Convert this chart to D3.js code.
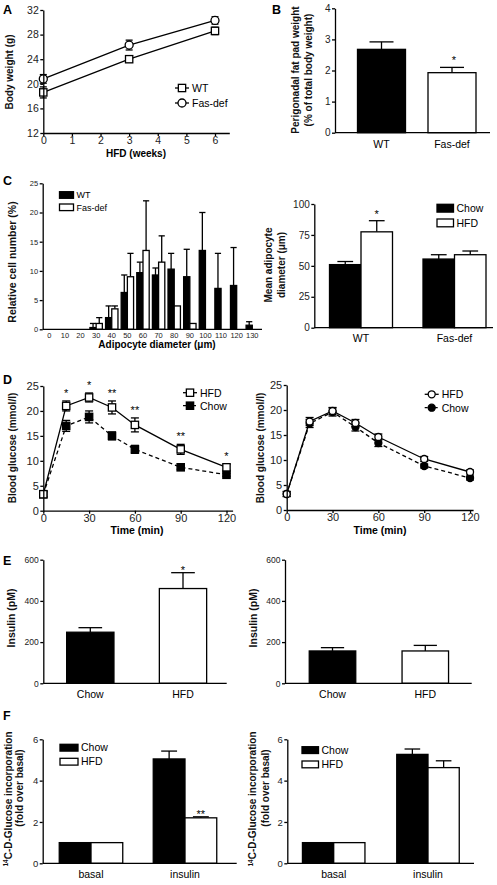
<!DOCTYPE html>
<html><head><meta charset="utf-8">
<script src="https://cdn.jsdelivr.net/npm/d3@7"></script>
<style>body{margin:0;background:#fff}</style>
</head><body><svg id="c" width="497" height="885"></svg>
<script>
// ---------------- DATA ----------------
const weeks=[0,3,6];
const bwWT=[18.6,24.0,28.6], bwWTerr=[0.9,0.5,0.6];
const bwFas=[20.8,26.3,30.3], bwFasErr=[0.7,0.8,0.6];
const weekTicks=[0,1,2,3,4,5,6], bwTicks=[12,16,20,24,28,32];

const fatCats=["WT","Fas-def"], fatVals=[2.68,1.93], fatErr=[0.24,0.17], fatSig=["","*"];
const fatTicks=[0,1,2,3,4];

const diamCats=[0,10,20,30,40,50,60,70,80,90,100,110,120,130];
const histSeries=["WT","Fas-def"];
const histWT=[0,0,0,0.3,2,6.3,9.7,9.3,10.3,9,13.5,7,7.5,0.7];
const histWTerr=[0,0,0,0.7,2,3,1.8,1.2,2.7,4.7,6.5,6,6.5,0.6];
const histFas=[0,0,0,1,3.5,9,13.5,11.5,4,1,0,0,0,0];
const histFasErr=[0,0,0,1,0.5,4,8.5,4.5,0,0,0,0,0,0];
const histTicks=[0,5,10,15,20,25];

const meanGroups=["WT","Fas-def"], dietSeries=["Chow","HFD"];
const meanChow=[51,55.5], meanChowErr=[2.5,3.5];
const meanHFD=[77.5,59], meanHFDerr=[9,3];
const meanSig=["*",""];
const meanTicks=[0,25,50,75,100];

const times=[0,15,30,45,60,90,120], timeTicks=[0,30,60,90,120], gluTicks=[0,5,10,15,20,25];
const gttHFD=[3.3,21,22.7,20.7,17.2,12.3,8.7], gttHFDerr=[0.5,1.0,0.9,1.3,1.4,1.0,0.6];
const gttChow=[3.3,17,18.8,15,12.3,8.7,7.2], gttChowErr=[0.5,1.1,1.2,0.8,0.8,0.4,0.3];
const gttSig=["","*","*","**","**","**","*"];
const gtt2HFD=[3.2,17.7,19.8,17.4,14.6,10.2,7.6], gtt2HFDerr=[0.5,0.8,0.7,0.7,0.6,0.5,0.4];
const gtt2Chow=[3.2,17.3,19.6,16.6,13.4,8.8,6.4], gtt2ChowErr=[0.5,0.8,0.8,0.8,0.7,0.4,0.4];

const insCats=["Chow","HFD"], insTicks=[0,200,400,600];
const insWT=[248,460], insWTerr=[22,77], insSig=["","*"];
const insFas=[157,157], insFasErr=[16,27];

const glcCats=["basal","insulin"], glcTicks=[0,2,4,6];
const glcChowWT=[1,5.05], glcChowWTerr=[0,0.38];
const glcHFDWT=[1,2.2], glcHFDWTerr=[0,0.05], glcSigWT=["","**"];
const glcChowFas=[1,5.27], glcChowFasErr=[0,0.26];
const glcHFDFas=[1,4.63], glcHFDFasErr=[0,0.33];

// ---------------- HELPERS ----------------
const svg=d3.select("#c");
const FONT='"Liberation Sans", Arial, Helvetica, sans-serif';
const SW=1.3;
const fmt=d3.format("d");
function txt(x,y,s,fs,opt={}){
  return svg.append("text").attr("x",x).attr("y",y).text(s)
    .attr("font-family",FONT).attr("font-size",fs)
    .attr("text-anchor",opt.anchor||"start")
    .attr("font-weight",opt.bold?"bold":"normal").attr("fill","#000");
}
function vtxt(x,y,s,fs){
  return svg.append("text").attr("transform",`translate(${x},${y}) rotate(-90)`)
    .attr("text-anchor","middle").attr("font-family",FONT).attr("font-weight","bold")
    .attr("font-size",fs).attr("fill","#111").text(s);
}
function styleAxis(g,fs){
  g.attr("font-family",FONT).attr("font-size",fs);
  g.select(".domain").attr("stroke","#000").attr("stroke-width",SW);
  g.selectAll(".tick line").attr("stroke","#000").attr("stroke-width",SW);
  g.selectAll(".tick text").attr("fill","#222");
}
function yAxis(y,x0,ticks,fs){
  const g=svg.append("g").attr("transform",`translate(${x0},0)`)
    .call(d3.axisLeft(y).tickValues(ticks).tickFormat(fmt).tickSize(3).tickSizeOuter(0).tickPadding(1.5));
  styleAxis(g,fs); return g;
}
function xAxis(x,y0,ticks,fs){
  const g=svg.append("g").attr("transform",`translate(0,${y0})`)
    .call(d3.axisBottom(x).tickValues(ticks).tickFormat(fmt).tickSize(3).tickSizeOuter(0).tickPadding(0.5));
  styleAxis(g,fs); return g;
}
function hline(x0,x1,y){
  svg.append("line").attr("x1",x0).attr("x2",x1).attr("y1",y).attr("y2",y)
    .attr("stroke","#000").attr("stroke-width",SW);
}
function seg(x1,y1,x2,y2){
  svg.append("line").attr("x1",x1).attr("x2",x2).attr("y1",y1).attr("y2",y2)
    .attr("stroke","#000").attr("stroke-width",SW);
}
function band(cats,c0,step,bw){
  const pi=1-bw/step;
  return d3.scaleBand().domain(cats).range([c0-step/2,c0-step/2+step*cats.length])
    .paddingInner(pi).paddingOuter(pi/2);
}
function bar(x0,w,y,v,e,fill,capFrac){
  if(e>0){
    const cx=x0+w/2, cw=w*capFrac/2;
    seg(cx,y(v),cx,y(v+e)); seg(cx-cw,y(v+e),cx+cw,y(v+e));
  }
  if(v>0){
    svg.append("rect").attr("x",x0).attr("y",y(v)).attr("width",w).attr("height",y(0)-y(v))
      .attr("fill",fill).attr("stroke","#000").attr("stroke-width",SW);
  }
}
function groupedBars(x,sub,y,cats,series,vals,errs,fills,capFrac){
  series.forEach((s,si)=>cats.forEach((c,ci)=>{
    bar(x(c)+sub(s),sub.bandwidth(),y,vals[si][ci],errs[si][ci],fills[si],capFrac);
  }));
}
function line(x,y,xs,vals,dash){
  svg.append("path").datum(xs.map((t,i)=>[x(t),y(vals[i])])).attr("d",d3.line())
    .attr("fill","none").attr("stroke","#000").attr("stroke-width",SW)
    .attr("stroke-dasharray",dash||null);
}
function errBars(x,y,xs,vals,errs,cap){
  xs.forEach((t,i)=>{
    const cx=x(t), lo=y(vals[i]-errs[i]), hi=y(vals[i]+errs[i]);
    seg(cx,lo,cx,hi); seg(cx-cap/2,lo,cx+cap/2,lo); seg(cx-cap/2,hi,cx+cap/2,hi);
  });
}
function marker(cx,cy,shape,fill,s){
  if(shape==="square"){
    svg.append("rect").attr("x",cx-s/2).attr("y",cy-s/2).attr("width",s).attr("height",s)
      .attr("fill",fill).attr("stroke","#000").attr("stroke-width",SW);
  } else {
    svg.append("circle").attr("cx",cx).attr("cy",cy).attr("r",s/2)
      .attr("fill",fill).attr("stroke","#000").attr("stroke-width",SW);
  }
}
function markers(x,y,xs,vals,shape,fill,s){
  xs.forEach((t,i)=>marker(x(t),y(vals[i]),shape,fill,s));
}
function lineLegend(x,y,label,shape,fill,dash,fs,s){
  svg.append("line").attr("x1",x-7).attr("x2",x+7).attr("y1",y).attr("y2",y)
    .attr("stroke","#000").attr("stroke-width",SW).attr("stroke-dasharray",dash||null);
  marker(x,y,shape,fill,s);
  txt(x+10,y+3.8,label,fs);
}
function boxLegend(x,y,w,h,label,fill,fs){
  svg.append("rect").attr("x",x).attr("y",y).attr("width",w).attr("height",h)
    .attr("fill",fill).attr("stroke","#000").attr("stroke-width",SW);
  txt(x+w+3,y+h,label,fs);
}
function letter(x,y,s){ txt(x,y,s,12.5,{bold:true}).attr("font-weight","900"); }

// ---------------- PANEL A ----------------
letter(3,13.5,"A");
const xA=d3.scaleLinear([0,6.5],[43.3,229.3]), yA=d3.scaleLinear([12,32],[133,10]);
line(xA,yA,weeks,bwWT); line(xA,yA,weeks,bwFas);
errBars(xA,yA,weeks,bwWT,bwWTerr,7); errBars(xA,yA,weeks,bwFas,bwFasErr,7);
markers(xA,yA,weeks,bwWT,"square","#fff",7.3);
markers(xA,yA,weeks,bwFas,"circle","#fff",8);
yAxis(yA,43.3,bwTicks,10.5); xAxis(xA,133,weekTicks,10.5);
txt(136,156.5,"HFD (weeks)",10,{anchor:"middle",bold:true});
vtxt(12.5,72,"Body weight (g)",10);
lineLegend(182,88,"WT","square","#fff",null,10.5,7.3);
lineLegend(182,103,"Fas-def","circle","#fff",null,10.5,8);

// ---------------- PANEL B ----------------
letter(272,13.5,"B");
const yB=d3.scaleLinear([0,4],[132.7,8.3]);
const xB=band(fatCats,381.5,70.5,48);
fatCats.forEach((c,i)=>{
  bar(xB(c),xB.bandwidth(),yB,fatVals[i],fatErr[i],i===0?"#000":"#fff",0.5);
  const cx=xB(c)+xB.bandwidth()/2;
  txt(cx,147.5,c,10.5,{anchor:"middle"});
  if(fatSig[i]) txt(cx+2,yB(fatVals[i]+fatErr[i])-3,fatSig[i],11,{anchor:"middle"});
});
yAxis(yB,335,fatTicks,10); hline(335,490,132.7);
vtxt(299,70,"Perigonadal fat pad weight",10);
vtxt(312,70,"(% of total body weight)",10);

// ---------------- PANEL C (left) ----------------
letter(3,185,"C");
const yC=d3.scaleLinear([0,25],[329.3,183.3]);
const xC=band(diamCats,49.3,15.615,12.4);
const subC=d3.scaleBand().domain(histSeries).range([0,xC.bandwidth()]);
groupedBars(xC,subC,yC,diamCats,histSeries,[histWT,histFas],[histWTerr,histFasErr],["#000","#fff"],1);
yAxis(yC,42.7,histTicks,7.5); hline(42.7,262,329.3);
diamCats.forEach(c=>txt(xC(c)+xC.bandwidth()/2,338,String(c),7.5,{anchor:"middle"}).attr("fill","#222"));
txt(157,347.7,"Adipocyte diameter (\u03bcm)",10,{anchor:"middle",bold:true});
vtxt(16,262,"Relative cell number (%)",10.5);
boxLegend(59.5,191.7,14,6.6,"WT","#000",9);
boxLegend(59.5,204,14,6.6,"Fas-def","#fff",9);

// ---------------- PANEL C (right) ----------------
const yCR=d3.scaleLinear([0,100],[327.7,204]);
const xCR=band(meanGroups,361,93.5,63);
const subCR=d3.scaleBand().domain(dietSeries).range([0,xCR.bandwidth()]);
groupedBars(xCR,subCR,yCR,meanGroups,dietSeries,[meanChow,meanHFD],[meanChowErr,meanHFDerr],["#000","#fff"],0.5);
meanGroups.forEach((g,i)=>{
  txt(xCR(g)+xCR.bandwidth()/2,342,g,10.5,{anchor:"middle"});
  if(meanSig[i]) txt(xCR(g)+subCR("HFD")+subCR.bandwidth()/2,yCR(meanHFD[i]+meanHFDerr[i])-3,meanSig[i],11,{anchor:"middle"});
});
yAxis(yCR,314.3,meanTicks,10); hline(314.3,493,327.7);
vtxt(272,265,"Mean adipocyte",10);
vtxt(285,265,"diameter (\u03bcm)",10);
boxLegend(437,204.3,16.5,7.8,"Chow","#000",10.5);
boxLegend(437,219,16.5,7.8,"HFD","#fff",10.5);

// ---------------- PANEL D (left) ----------------
letter(3,383.5,"D");
const xD=d3.scaleLinear([0,124],[43.3,232.6]), yD=d3.scaleLinear([0,25],[510.7,386]);
line(xD,yD,times,gttHFD); line(xD,yD,times,gttChow,"4,3");
errBars(xD,yD,times,gttHFD,gttHFDerr,8); errBars(xD,yD,times,gttChow,gttChowErr,8);
markers(xD,yD,times,gttChow,"square","#000",7.3);
markers(xD,yD,times,gttHFD,"square","#fff",7.3);
times.forEach((t,i)=>{ if(gttSig[i]) txt(xD(t),yD(gttHFD[i]+gttHFDerr[i])-4,gttSig[i],11,{anchor:"middle"}); });
yAxis(yD,43.3,gluTicks,11); xAxis(xD,510.7,timeTicks,11);
txt(137,534,"Time (min)",10.5,{anchor:"middle",bold:true});
vtxt(15.5,448,"Blood glucose (mmol/l)",10);
lineLegend(190,392.7,"HFD","square","#fff",null,10.5,7.3);
lineLegend(190,405.7,"Chow","square","#000","3,2",10.5,7.3);

// ---------------- PANEL D (right) ----------------
const xD2=d3.scaleLinear([0,122],[286.7,473.1]), yD2=d3.scaleLinear([0,25],[510,385]);
line(xD2,yD2,times,gtt2HFD); line(xD2,yD2,times,gtt2Chow,"4,3");
errBars(xD2,yD2,times,gtt2HFD,gtt2HFDerr,8); errBars(xD2,yD2,times,gtt2Chow,gtt2ChowErr,8);
markers(xD2,yD2,times,gtt2Chow,"circle","#000",7);
markers(xD2,yD2,times,gtt2HFD,"circle","#fff",7);
yAxis(yD2,286.7,gluTicks,11); xAxis(xD2,510,timeTicks,11);
txt(380,534,"Time (min)",10.5,{anchor:"middle",bold:true});
vtxt(264,448,"Blood glucose (mmol/l)",10);
lineLegend(431.7,394.3,"HFD","circle","#fff",null,10.5,7);
lineLegend(431.7,407.7,"Chow","circle","#000","3,2",10.5,7);

// ---------------- PANEL E ----------------
letter(3,565,"E");
const yE=d3.scaleLinear([0,600],[683.3,559.7]);
const xE=band(insCats,90.3,92.7,47.3);
insCats.forEach((c,i)=>{
  bar(xE(c),xE.bandwidth(),yE,insWT[i],insWTerr[i],i===0?"#000":"#fff",0.5);
  const cx=xE(c)+xE.bandwidth()/2;
  txt(cx,698,c,10.5,{anchor:"middle"});
  if(insSig[i]) txt(cx,yE(insWT[i]+insWTerr[i])+1,insSig[i],11,{anchor:"middle"});
});
yAxis(yE,43.3,insTicks,8.5); hline(43.3,226.7,683.3);
vtxt(15,618,"Insulin (pM)",10.5);

const xE2=band(insCats,332.5,92.8,46.5);
insCats.forEach((c,i)=>{
  bar(xE2(c),xE2.bandwidth(),yE,insFas[i],insFasErr[i],i===0?"#000":"#fff",0.5);
  txt(xE2(c)+xE2.bandwidth()/2,698,c,10.5,{anchor:"middle"});
});
yAxis(yE,285,insTicks,8.5); hline(285,471.7,683.3);
vtxt(257,618,"Insulin (pM)",10.5);

// ---------------- PANEL F ----------------
letter(3,720,"F");
function glcTitle(x1,x2,c1,c2){
  const t=svg.append("text").attr("transform",`translate(${x1},${c1}) rotate(-90)`)
    .attr("text-anchor","middle").attr("font-family",FONT).attr("font-weight","bold")
    .attr("font-size",10).attr("fill","#111");
  t.append("tspan").attr("font-size",6.5).attr("dy",-3.5).text("14");
  t.append("tspan").attr("dy",3.5).text("C-D-Glucose incorporation");
  vtxt(x2,c2,"(fold over basal)",10);
}
const yF=d3.scaleLinear([0,6],[863.3,739.3]);
const xF=band(glcCats,91,94,63.5);
const subF=d3.scaleBand().domain(dietSeries).range([0,xF.bandwidth()]);
groupedBars(xF,subF,yF,glcCats,dietSeries,[glcChowWT,glcHFDWT],[glcChowWTerr,glcHFDWTerr],["#000","#fff"],0.5);
glcCats.forEach((c,i)=>{
  txt(xF(c)+xF.bandwidth()/2,878,c,10.5,{anchor:"middle"});
  if(glcSigWT[i]) txt(xF(c)+subF("HFD")+subF.bandwidth()/2,yF(glcHFDWT[i]+glcHFDWTerr[i])+1.5,glcSigWT[i],11,{anchor:"middle"});
});
yAxis(yF,42.7,glcTicks,9.5); hline(42.7,236.7,863.3);
glcTitle(11.5,22.5,799,788);
boxLegend(60,744.3,18,6.8,"Chow","#000",10.5);
boxLegend(60,758.3,18,6.8,"HFD","#fff",10.5);

const xF2=band(glcCats,333.7,94.3,62.5);
const subF2=d3.scaleBand().domain(dietSeries).range([0,xF2.bandwidth()]);
groupedBars(xF2,subF2,yF,glcCats,dietSeries,[glcChowFas,glcHFDFas],[glcChowFasErr,glcHFDFasErr],["#000","#fff"],0.5);
glcCats.forEach(c=>txt(xF2(c)+xF2.bandwidth()/2,878,c,10.5,{anchor:"middle"}));
yAxis(yF,287.3,glcTicks,9.5); hline(287.3,474,863.3);
glcTitle(256,269,799,788);
boxLegend(302,746.7,16.5,6.8,"Chow","#000",10.5);
boxLegend(302,761,16.5,6.8,"HFD","#fff",10.5);
</script></body></html>
